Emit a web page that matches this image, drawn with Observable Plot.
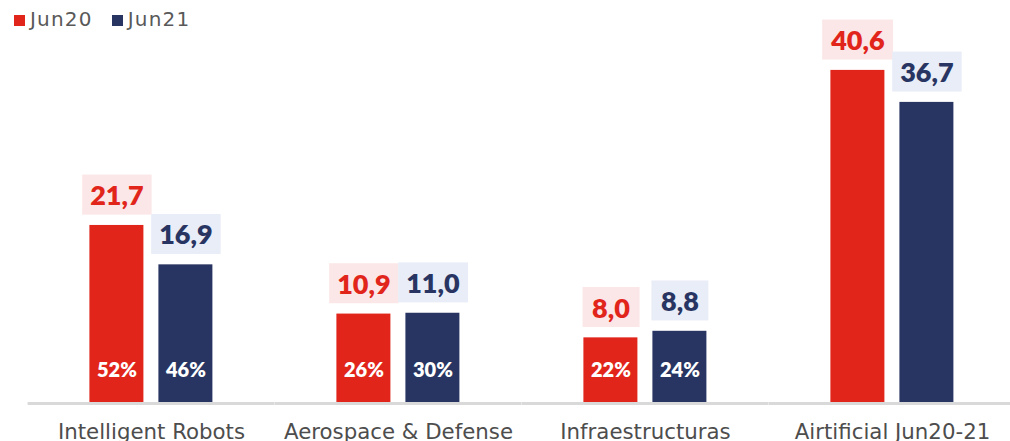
<!DOCTYPE html>
<html><head><meta charset="utf-8">
<script src="https://cdn.jsdelivr.net/npm/d3@7"></script>
<script src="https://cdn.jsdelivr.net/npm/@observablehq/plot@0.6"></script>
<style>
body{margin:0;background:#fff;font-family:Lato,"DejaVu Sans",sans-serif}
#wrap{position:relative;width:1010px;height:441px;overflow:hidden}
#legend{position:absolute;left:14px;top:7px;display:flex;gap:19px;font-family:"DejaVu Sans",sans-serif;font-size:20px;letter-spacing:1.2px;color:#595959;z-index:2}
#legend span.item{display:flex;align-items:baseline}
#legend i{display:inline-block;width:11px;height:11px;margin-right:5px}
.xaxis text{font-family:"DejaVu Sans",sans-serif}
</style></head><body>
<div id="wrap"><div id="legend"></div><div id="chart"></div></div>
<script>
const categories = ["Intelligent Robots", "Aerospace & Defense", "Infraestructuras", "Airtificial Jun20-21"];
const series = ["Jun20", "Jun21"];
const jun20 = [21.7, 10.9, 8.0, 40.6];
const jun21 = [16.9, 11.0, 8.8, 36.7];
const share20 = [52, 26, 22, null];
const share21 = [46, 30, 24, null];
const colors = ["#e1251b", "#283562"];
const boxColors = ["#fbe7e7", "#e9edf7"];

const data = categories.flatMap((c, i) => [
  {category: c, series: "Jun20", value: jun20[i], share: share20[i]},
  {category: c, series: "Jun21", value: jun21[i], share: share21[i]}
]);
const fmt = v => d3.format(".1f")(v).replace(".", ",");

document.getElementById("legend").innerHTML = series.map((s, i) =>
  `<span class="item"><i style="background:${colors[i]}"></i>${s}</span>`).join("");

const plot = Plot.plot({
  width: 1010, height: 441,
  marginLeft: 38.6, marginRight: 5.8, marginTop: 42, marginBottom: 38,
  style: {fontFamily: "Lato, 'DejaVu Sans', sans-serif", overflow: "visible"},
  fx: {domain: categories, paddingInner: 0.1, paddingOuter: 0, axis: null, label: null},
  x: {domain: series, axis: null, paddingInner: 0.214, paddingOuter: 0.699},
  y: {domain: [0, 44], axis: null},
  color: {domain: series, range: colors},
  marks: [
    Plot.barY(data, {fx: "category", x: "series", y: "value", fill: "series"}),
    Plot.ruleY([0], {stroke: "#d9d9d9", strokeWidth: 3, insetLeft: -12.4, insetRight: -12.4}),
    Plot.text(data, {fx: "category", x: "series", y: "value", text: d => fmt(d.value), dy: -29,
      fill: "series", fontSize: 27, fontWeight: 800, className: "vlabel"}),
    Plot.text(data.filter(d => d.share != null), {fx: "category", x: "series", y: 0, dy: -33,
      text: d => d.share + "%", fill: "white", fontSize: 20, fontWeight: 800, className: "plabel"}),
    Plot.axisFx({anchor: "bottom", tickSize: 0, tickPadding: 20.5, fontSize: 21.3, fill: "#4d4d4d", label: null, className: "xaxis"})
  ]
});
document.getElementById("chart").appendChild(plot);

// background boxes behind the value labels
plot.querySelectorAll("g.vlabel text").forEach(t => {
  const bb = t.getBBox();
  const fill = t.getAttribute("fill");
  const idx = colors.indexOf(fill);
  const r = document.createElementNS("http://www.w3.org/2000/svg", "rect");
  const pad = 8;
  const w = Math.max(bb.width + 2 * pad, 57);
  r.setAttribute("x", bb.x + bb.width / 2 - w / 2);
  r.setAttribute("width", w);
  r.setAttribute("y", bb.y + bb.height / 2 - 20);
  r.setAttribute("height", 40);
  r.setAttribute("fill", boxColors[idx < 0 ? 0 : idx]);
  if (t.getAttribute("transform")) r.setAttribute("transform", t.getAttribute("transform"));
  t.parentNode.insertBefore(r, t);
});
</script>
</body></html>
